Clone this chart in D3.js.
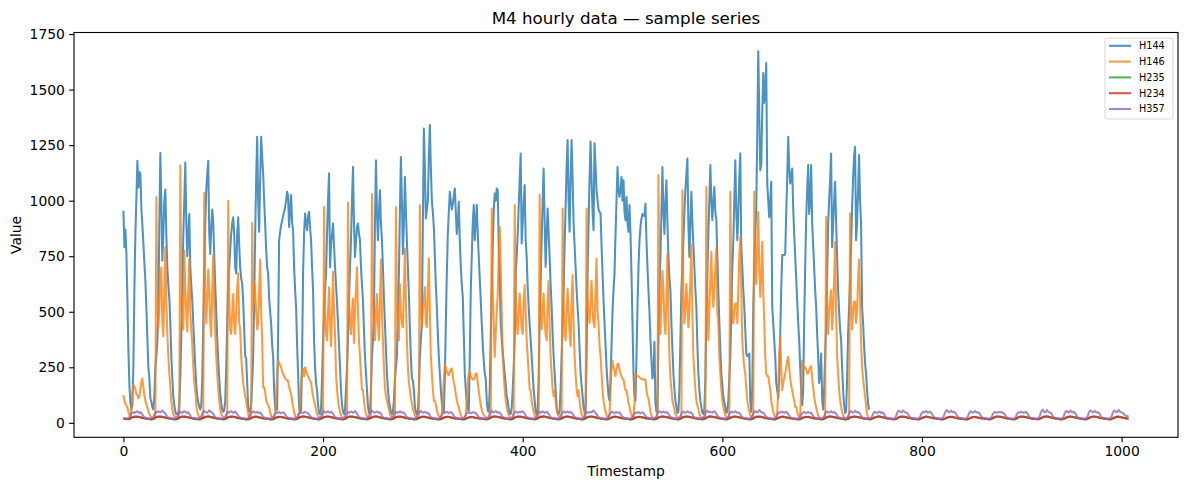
<!DOCTYPE html>
<html>
<head>
<meta charset="utf-8">
<script src="https://cdn.jsdelivr.net/npm/d3@7"></script>
<style>
  body { margin: 0; background: #fff; }
  svg { display: block; }
  text { font-family: "DejaVu Sans", sans-serif; fill: #000; }
</style>
</head>
<body>
<svg id="chart" width="1189" height="490"></svg>
<script>
// ---- data (hourly values, one row per day) ----
var seriesNames = ["H144", "H146", "H235", "H234", "H357"];
var seriesColors = ["#1f77b4", "#ff7f0e", "#2ca02c", "#d62728", "#9467bd"];
var xTicks = [0, 200, 400, 600, 800, 1000];
var yTicks = [0, 250, 500, 750, 1000, 1250, 1500, 1750];

var h144 = [].concat(
  [955,790,870,760,560,330,170,90,60,80,260,600,850,1010,1180,1060,1130,1120,960,890,810,720,640,520],
  [380,250,200,110,95,70,60,120,250,300,370,500,900,1215,1000,730,850,1000,1050,850,700,620,560,450],
  [300,200,120,80,50,40,40,45,80,200,400,600,850,1000,1172,900,750,850,940,700,620,550,447,350],
  [250,170,120,90,72,60,80,200,450,700,900,1050,1120,1180,850,760,880,960,900,750,620,500,380,280],
  [200,130,90,60,50,55,100,250,450,650,700,780,850,900,925,850,700,672,850,925,800,700,650,627],
  [550,420,300,290,180,72,50,50,90,180,297,550,852,1100,1288,1000,860,1100,1288,1200,1122,1000,897,780],
  [700,672,560,500,447,350,297,147,70,55,60,400,822,860,890,910,930,950,972,1000,1040,1020,882,960],
  [1025,900,867,702,600,522,350,222,72,45,60,300,672,850,942,900,867,930,950,880,822,700,597,372],
  [250,180,147,80,45,40,60,200,372,500,600,672,850,1000,1122,700,800,850,897,800,702,620,540,447],
  [350,250,147,80,50,40,60,150,250,372,550,700,822,1000,1152,900,747,820,880,897,850,822,700,620],
  [550,420,300,222,150,72,45,50,150,297,372,490,900,1182,950,822,950,1047,900,822,700,560,447,330],
  [222,150,100,72,50,40,50,100,200,250,297,500,672,950,1197,1000,760,900,1107,950,822,700,580,420],
  [300,200,190,150,72,50,40,50,150,300,372,447,900,1325,1150,920,960,1000,1200,1340,1150,1000,950,880],
  [750,620,522,400,300,222,150,90,60,50,200,450,672,850,950,1040,1000,960,985,1020,1055,950,850,900],
  [995,822,700,620,567,400,222,150,90,60,55,300,597,750,900,980,822,900,980,850,747,650,550,447],
  [350,280,222,200,100,55,50,150,400,597,800,950,1032,1000,1055,1047,800,650,447,380,320,270,222,170],
  [120,100,60,40,40,70,150,250,372,672,750,850,972,1100,1212,807,900,1000,1070,822,750,612,520,440],
  [372,300,222,150,100,50,40,60,200,447,650,822,1000,1145,900,702,850,965,850,747,620,522,400,300],
  [222,150,72,45,40,50,150,300,447,600,800,972,1150,1273,1000,860,1100,1273,1100,897,800,702,600,520],
  [447,330,222,170,120,72,45,50,300,672,900,1100,1266,1100,950,867,1258,1150,1047,1000,960,950,943,800],
  [672,550,447,350,250,180,120,100,200,350,500,600,672,850,1000,1152,1050,1017,1050,1107,1000,1092,950,912],
  [1017,900,860,980,850,672,450,222,125,100,300,522,700,820,882,920,940,935,930,987,822,700,597,500],
  [372,282,200,222,365,87,50,60,372,600,747,950,1152,950,850,1000,1092,900,750,650,597,450,330,222],
  [150,100,72,45,50,150,372,600,700,822,950,1050,1120,1190,900,747,900,1040,900,800,700,600,522,350],
  [222,150,100,72,45,40,60,200,450,672,850,1000,1160,1000,912,1000,1062,950,912,750,600,450,330,222],
  [170,120,90,72,45,50,100,200,297,500,700,822,1000,1182,950,822,950,1100,1212,790,700,600,522,420],
  [312,300,300,312,100,50,150,522,700,850,972,1300,1672,1400,1137,1160,1400,1575,1440,1500,1620,1077,1000,925],
  [1000,1085,522,450,372,300,180,147,110,200,400,600,755,755,755,760,942,1100,1288,1150,1077,1100,1145,965],
  [850,750,650,550,450,372,250,147,80,150,447,700,920,1050,1160,940,1000,1160,900,800,700,600,522,400],
  [300,180,222,312,110,60,150,300,447,650,897,1000,1100,1212,790,900,1000,1085,897,750,597,500,420,372],
  [250,147,80,45,50,200,400,522,650,800,972,1100,1200,1243,822,900,1050,1205,1000,897,522,450,350,268],
  [222,147,90,60]
);

var h146 = [].concat(
  [125,100,85,80,70,50,35,30,60,130,170,165,150,130,124,110,120,150,185,200,160,124,100,85],
  [70,50,40,30,25,20,20,20,30,1016,550,430,520,650,700,450,390,600,790,550,400,300,222,160],
  [100,60,40,30,25,20,20,20,40,1158,600,450,420,775,600,500,410,600,740,500,420,350,250,180],
  [147,80,50,35,25,20,20,20,40,1034,600,447,550,690,600,450,390,600,755,550,400,300,220,150],
  [100,60,40,30,25,20,20,20,40,1000,550,420,400,500,580,450,400,500,610,673,450,420,300,230],
  [180,150,120,100,70,40,25,20,50,900,500,630,600,500,420,450,600,735,500,372,160,160,140,100],
  [90,80,70,50,30,25,20,25,40,120,220,280,270,260,250,230,220,210,200,195,190,190,160,147],
  [130,100,72,50,30,22,20,25,40,100,180,230,245,210,250,230,220,210,200,190,180,150,120,100],
  [80,60,40,30,25,20,20,25,40,972,500,400,372,500,610,450,345,500,680,500,400,222,150,100],
  [72,50,35,25,20,20,20,25,40,992,550,450,400,500,560,360,500,600,700,500,372,300,222,147],
  [147,100,60,40,30,25,20,20,40,1030,600,450,372,500,580,450,372,550,735,500,372,250,160,120],
  [100,80,60,40,30,25,20,20,40,972,550,450,372,625,500,450,430,600,785,550,372,250,180,147],
  [110,90,60,50,35,25,20,20,40,980,550,430,500,550,610,450,430,600,740,500,300,222,150,100],
  [100,80,60,40,30,25,20,40,100,200,260,250,230,220,215,230,240,245,210,180,160,130,100,80],
  [72,50,35,25,20,20,25,40,100,180,220,230,210,200,195,195,210,222,222,180,140,110,80,60],
  [45,35,30,25,20,20,20,25,40,965,600,450,297,400,500,580,760,882,700,500,300,222,150,100],
  [70,50,35,25,20,20,20,40,980,600,450,400,500,582,500,420,400,550,620,500,372,300,222,150],
  [147,100,72,50,35,25,20,20,40,1025,550,420,500,582,450,400,372,550,640,450,297,222,150,120],
  [147,100,60,40,30,20,20,40,965,550,400,372,500,605,500,400,345,550,665,450,297,222,150,120],
  [147,100,60,40,30,20,20,40,965,550,500,450,550,640,500,450,430,600,740,500,447,350,300,222],
  [150,100,72,50,35,25,20,40,150,250,280,250,230,210,240,265,265,240,222,210,200,195,170,147],
  [147,120,90,72,50,35,25,20,100,222,215,210,210,205,200,200,195,195,195,195,150,120,110,80],
  [50,35,25,20,20,20,25,40,1115,550,400,550,685,600,450,400,550,760,500,300,200,150,100,80],
  [60,40,30,25,20,20,25,40,1047,600,450,500,625,550,430,500,650,800,500,300,222,150,100,80],
  [60,40,30,25,20,20,25,40,1062,600,372,500,650,770,600,522,600,700,790,500,447,300,222,150],
  [100,72,50,35,25,20,20,40,1040,600,500,447,500,537,537,447,600,750,837,600,372,300,250,222],
  [150,100,72,50,35,25,20,40,1040,700,625,800,950,700,567,650,815,600,447,300,222,210,210,180],
  [147,100,72,50,35,25,20,40,150,300,387,250,147,180,200,222,250,280,297,250,200,170,147,120],
  [100,72,72,50,35,25,40,150,280,260,250,250,240,222,222,240,250,255,200,160,120,90,70,50],
  [35,25,20,20,20,20,25,40,927,550,400,500,550,597,420,500,650,815,500,300,222,150,100,72],
  [50,35,25,20,20,20,25,40,942,550,420,500,545,545,450,500,650,735,550,372,250,200,160,120],
  [80,40,25,20]
);

var h235 = [].concat(
  [19,18,17,16,16,16,17,19,22,24,26,27,27,28,27,26,25,24,23,22,21,20,20,19],
  [18,17,16,15,15,16,18,20,23,25,26,27,28,28,27,26,25,24,23,22,21,20,19,19],
  [18,17,16,15,15,16,17,20,23,25,27,28,28,27,27,26,25,24,23,22,21,20,19,18],
  [18,17,16,15,15,16,18,20,22,24,26,27,28,29,28,26,25,24,23,22,21,20,19,19],
  [18,17,16,16,15,16,17,19,22,25,26,27,27,28,27,26,25,24,22,21,21,20,19,18],
  [18,17,16,15,15,15,17,19,21,23,25,26,27,27,26,25,24,23,22,21,20,20,19,18],
  [18,17,16,15,15,15,16,18,21,23,24,25,26,26,26,25,24,23,22,21,20,19,19,18],
  [18,17,16,15,15,16,17,20,23,25,27,28,28,28,27,26,25,24,23,22,21,20,19,19],
  [18,17,16,15,15,16,18,20,23,25,26,27,28,28,27,26,25,24,23,22,21,20,19,19],
  [18,17,16,15,15,16,17,20,23,26,27,28,28,27,27,26,25,24,23,22,21,20,19,18],
  [18,17,16,16,15,16,18,20,22,24,26,27,28,29,28,26,25,24,23,22,21,20,19,19],
  [18,17,16,15,15,16,17,19,22,25,26,27,27,28,27,26,25,24,22,21,21,20,19,18],
  [18,17,16,15,15,15,17,19,21,23,25,26,27,27,26,25,24,23,22,21,20,20,19,18],
  [18,17,16,15,15,15,16,18,21,23,24,25,26,26,26,25,24,23,22,21,20,19,19,18],
  [18,17,16,15,15,15,16,18,20,22,24,25,25,26,25,24,23,22,21,21,20,19,19,18],
  [18,17,16,15,15,16,18,20,23,25,27,28,28,28,27,26,25,24,23,22,21,20,19,19],
  [18,17,16,15,15,16,17,20,23,25,26,28,28,27,27,26,25,24,23,22,21,20,19,18],
  [18,17,16,16,15,16,18,20,22,25,27,27,28,29,28,26,25,24,23,22,21,20,19,19],
  [18,17,16,15,15,16,17,19,22,24,26,27,28,28,27,26,25,24,23,22,21,20,19,18],
  [18,17,16,15,15,16,18,20,23,25,26,27,28,28,27,26,25,24,22,21,21,20,19,18],
  [18,17,16,15,15,15,17,19,21,23,25,26,27,27,26,25,24,23,22,21,20,20,19,18],
  [18,17,16,15,15,15,16,18,21,23,24,25,26,26,25,25,24,23,22,21,20,19,19,18],
  [18,17,16,15,15,16,17,20,23,25,27,28,28,28,27,26,25,24,23,22,21,20,19,19],
  [18,17,16,15,15,16,18,20,23,25,26,27,28,28,27,26,25,24,23,22,21,20,19,18],
  [18,17,16,16,15,16,17,20,22,25,27,28,29,28,27,26,25,24,23,22,21,20,19,19],
  [18,17,16,15,15,16,18,20,22,24,26,27,28,28,27,26,25,24,23,22,21,20,19,18],
  [18,17,16,15,15,16,17,19,22,25,26,27,27,28,27,26,25,24,22,21,21,20,19,18],
  [18,17,16,15,15,15,17,19,21,23,25,26,27,27,26,25,24,23,22,21,20,20,19,18],
  [18,17,16,15,15,15,16,18,21,23,24,25,26,26,26,25,24,23,22,21,20,19,19,18],
  [18,17,16,15,15,16,18,20,23,25,27,28,28,28,27,26,25,24,23,22,21,20,19,19],
  [18,17,16,15,15,16,17,20,23,25,26,27,28,28,27,26,25,24,23,22,21,20,19,18],
  [18,17,16,16,15,16,18,20,22,24,26,27,28,29,28,26,25,24,23,22,21,20,19,19],
  [18,17,16,15,15,16,17,19,22,25,26,27,27,28,27,26,25,24,22,21,21,20,19,18],
  [18,17,16,15,15,15,17,19,21,23,25,26,27,27,26,25,24,23,22,21,20,20,19,18],
  [18,17,16,15,15,15,16,18,21,23,24,25,26,26,26,25,24,23,22,21,20,19,19,18],
  [18,17,16,15,15,15,16,18,20,22,24,25,25,26,25,24,23,22,21,21,20,19,19,18],
  [18,17,16,15,15,16,18,20,23,25,27,28,28,28,27,26,25,24,23,22,21,20,19,19],
  [18,17,16,15,15,16,17,20,23,25,26,28,28,27,27,26,25,24,23,22,21,20,19,18],
  [18,17,16,16,15,16,18,20,22,25,27,27,28,29,28,26,25,24,23,22,21,20,19,19],
  [18,17,16,15,15,16,17,19,22,24,26,27,28,28,27,26,25,24,23,22,21,20,19,18],
  [18,17,16,15,15,16,18,20,23,25,26,27,28,28,27,26,25,24,22,21,21,20,19,18],
  [18,17,16,15,15,15,17,19,21,23,25,26,27,27,26,25,24,23,22,21,20,20,19,19]
);

var h234 = [].concat(
  [20,19,18,17,17,17,18,20,23,25,27,28,28,29,28,27,26,25,24,23,22,21,21,20],
  [19,18,17,16,16,17,19,21,24,26,27,28,29,29,28,27,26,25,24,23,22,21,20,20],
  [19,18,17,16,16,17,18,21,24,26,28,29,29,28,28,27,26,25,24,23,22,21,20,19],
  [19,18,17,16,16,17,19,21,23,25,27,28,29,30,29,27,26,25,24,23,22,21,20,20],
  [19,18,17,17,16,17,18,20,23,26,27,28,28,29,28,27,26,25,23,22,22,21,20,19],
  [19,18,17,16,16,16,18,20,22,24,26,27,28,28,27,26,25,24,23,22,21,21,20,19],
  [19,18,17,16,16,16,17,19,22,24,25,26,27,27,27,26,25,24,23,22,21,20,20,19],
  [19,18,17,16,16,17,18,21,24,26,28,29,29,29,28,27,26,25,24,23,22,21,20,20],
  [19,18,17,16,16,17,19,21,24,26,27,28,29,29,28,27,26,25,24,23,22,21,20,20],
  [19,18,17,16,16,17,18,21,24,27,28,29,29,28,28,27,26,25,24,23,22,21,20,19],
  [19,18,17,17,16,17,19,21,23,25,27,28,29,30,29,27,26,25,24,23,22,21,20,20],
  [19,18,17,16,16,17,18,20,23,26,27,28,28,29,28,27,26,25,23,22,22,21,20,19],
  [19,18,17,16,16,16,18,20,22,24,26,27,28,28,27,26,25,24,23,22,21,21,20,19],
  [19,18,17,16,16,16,17,19,22,24,25,26,27,27,27,26,25,24,23,22,21,20,20,19],
  [19,18,17,16,16,16,17,19,21,23,25,26,26,27,26,25,24,23,22,22,21,20,20,19],
  [19,18,17,16,16,17,19,21,24,26,28,29,29,29,28,27,26,25,24,23,22,21,20,20],
  [19,18,17,16,16,17,18,21,24,26,27,29,29,28,28,27,26,25,24,23,22,21,20,19],
  [19,18,17,17,16,17,19,21,23,26,28,28,29,30,29,27,26,25,24,23,22,21,20,20],
  [19,18,17,16,16,17,18,20,23,25,27,28,29,29,28,27,26,25,24,23,22,21,20,19],
  [19,18,17,16,16,17,19,21,24,26,27,28,29,29,28,27,26,25,23,22,22,21,20,19],
  [19,18,17,16,16,16,18,20,22,24,26,27,28,28,27,26,25,24,23,22,21,21,20,19],
  [19,18,17,16,16,16,17,19,22,24,25,26,27,27,26,26,25,24,23,22,21,20,20,19],
  [19,18,17,16,16,17,18,21,24,26,28,29,29,29,28,27,26,25,24,23,22,21,20,20],
  [19,18,17,16,16,17,19,21,24,26,27,28,29,29,28,27,26,25,24,23,22,21,20,19],
  [19,18,17,17,16,17,18,21,23,26,28,29,30,29,28,27,26,25,24,23,22,21,20,20],
  [19,18,17,16,16,17,19,21,23,25,27,28,29,29,28,27,26,25,24,23,22,21,20,19],
  [19,18,17,16,16,17,18,20,23,26,27,28,28,29,28,27,26,25,23,22,22,21,20,19],
  [19,18,17,16,16,16,18,20,22,24,26,27,28,28,27,26,25,24,23,22,21,21,20,19],
  [19,18,17,16,16,16,17,19,22,24,25,26,27,27,27,26,25,24,23,22,21,20,20,19],
  [19,18,17,16,16,17,19,21,24,26,28,29,29,29,28,27,26,25,24,23,22,21,20,20],
  [19,18,17,16,16,17,18,21,24,26,27,28,29,29,28,27,26,25,24,23,22,21,20,19],
  [19,18,17,17,16,17,19,21,23,25,27,28,29,30,29,27,26,25,24,23,22,21,20,20],
  [19,18,17,16,16,17,18,20,23,26,27,28,28,29,28,27,26,25,23,22,22,21,20,19],
  [19,18,17,16,16,16,18,20,22,24,26,27,28,28,27,26,25,24,23,22,21,21,20,19],
  [19,18,17,16,16,16,17,19,22,24,25,26,27,27,27,26,25,24,23,22,21,20,20,19],
  [19,18,17,16,16,16,17,19,21,23,25,26,26,27,26,25,24,23,22,22,21,20,20,19],
  [19,18,17,16,16,17,19,21,24,26,28,29,29,29,28,27,26,25,24,23,22,21,20,20],
  [19,18,17,16,16,17,18,21,24,26,27,29,29,28,28,27,26,25,24,23,22,21,20,19],
  [19,18,17,17,16,17,19,21,23,26,28,28,29,30,29,27,26,25,24,23,22,21,20,20],
  [19,18,17,16,16,17,18,20,23,25,27,28,29,29,28,27,26,25,24,23,22,21,20,19],
  [19,18,17,16,16,17,19,21,24,26,27,28,29,29,28,27,26,25,23,22,22,21,20,19],
  [19,18,17,16,16,16,18,20,22,24,26,27,28,28,27,26,25,24,23,22,21,21,20,20]
);

var h357 = [].concat(
  [22,21,20,20,21,22,25,33,44,47,45,49,46,50,52,47,45,49,44,38,30,25,23,22],
  [21,20,20,19,20,22,26,38,46,50,48,52,49,47,51,55,50,46,42,34,27,24,22,21],
  [21,20,19,19,20,23,28,40,48,51,47,45,49,53,50,47,44,48,41,33,26,23,22,21],
  [20,20,19,19,21,24,30,42,50,54,49,47,46,50,56,52,48,45,40,32,26,23,21,21],
  [21,20,19,20,21,23,27,39,47,49,46,50,53,48,45,49,51,46,40,33,27,24,22,21],
  [21,20,19,19,20,22,26,37,45,48,52,49,46,47,50,46,44,47,42,34,27,24,22,21],
  [20,20,19,19,20,22,25,34,42,46,44,47,49,45,43,46,48,44,39,32,26,23,21,21],
  [20,19,19,19,20,22,25,35,43,45,48,46,44,47,50,47,45,43,38,31,26,23,21,20],
  [20,20,19,19,21,23,28,41,50,53,48,46,49,52,48,46,50,47,41,33,27,24,22,21],
  [21,20,19,19,20,23,29,42,49,47,45,48,51,49,46,48,53,48,42,34,27,24,22,21],
  [21,20,20,19,21,24,30,43,51,55,50,47,46,49,51,48,45,47,41,33,26,23,22,21],
  [21,20,19,19,20,22,27,39,46,50,47,45,48,52,49,46,48,45,40,32,26,23,21,21],
  [20,20,19,19,20,23,28,40,47,49,53,49,46,48,50,47,44,46,41,33,27,24,22,21],
  [21,20,19,19,20,22,26,36,44,47,45,48,50,46,44,47,49,45,39,32,26,23,21,20],
  [20,19,19,19,20,22,25,35,43,46,49,45,43,46,48,45,47,44,38,31,26,23,21,20],
  [20,20,19,19,21,23,29,42,50,54,49,47,50,53,49,46,48,45,40,33,27,24,22,21],
  [21,20,19,19,20,23,28,41,48,51,47,45,48,50,47,49,52,47,41,33,27,24,22,21],
  [21,20,20,19,21,24,30,43,50,48,46,49,52,48,45,47,50,46,40,32,26,23,22,21],
  [21,20,19,19,20,22,27,40,48,52,48,46,49,51,48,46,49,47,41,33,27,24,22,21],
  [21,20,19,19,20,23,28,41,49,47,45,48,50,47,52,56,49,45,40,32,26,23,21,21],
  [20,20,19,19,20,22,26,37,45,48,50,46,44,47,49,46,45,47,41,33,27,24,22,21],
  [21,20,19,19,20,22,25,35,43,46,44,47,49,45,43,46,48,44,38,31,26,23,21,20],
  [20,20,19,19,21,23,29,42,50,53,48,46,49,51,48,46,49,46,40,33,27,24,22,21],
  [21,20,19,19,20,23,28,41,48,51,47,45,48,52,49,46,48,45,40,32,26,23,22,21],
  [21,20,20,19,21,24,30,44,52,55,49,47,50,48,46,49,53,48,41,33,27,24,22,21],
  [21,20,19,19,20,22,27,40,47,50,48,46,49,52,48,45,47,45,39,32,26,23,21,21],
  [20,20,19,19,20,23,29,42,50,53,49,47,51,57,52,48,46,47,41,33,27,24,22,21],
  [21,20,19,19,20,22,26,37,45,48,46,49,51,47,45,48,50,46,40,32,26,23,21,20],
  [20,19,19,19,20,22,25,36,44,47,50,46,44,47,49,46,44,45,39,31,26,23,21,20],
  [20,20,19,19,21,23,28,41,49,52,48,46,49,52,48,46,49,47,41,33,27,24,22,21],
  [21,20,19,19,20,23,29,42,50,53,49,46,48,55,50,47,49,46,40,32,26,23,22,21],
  [21,20,20,19,21,23,28,40,47,50,46,44,47,51,48,45,48,46,40,32,26,23,21,21],
  [21,20,19,19,20,23,29,43,52,55,50,47,49,56,52,48,47,45,40,32,26,23,22,21],
  [21,20,19,19,20,22,26,38,46,49,47,50,53,49,46,48,51,47,41,33,27,24,22,21],
  [20,20,19,19,21,24,31,45,54,57,51,48,50,55,51,48,50,47,41,33,27,24,22,21],
  [21,20,19,19,20,23,28,41,49,52,48,46,49,53,49,46,48,46,40,32,26,23,21,21],
  [21,20,19,19,20,22,27,39,46,49,47,45,47,50,47,49,48,46,43,38,30,25,22,21],
  [21,20,19,19,20,22,26,38,45,48,46,48,50,47,45,47,50,46,40,32,26,23,22,21],
  [21,20,19,19,21,24,31,45,55,59,50,47,49,57,52,48,47,45,40,32,26,23,22,21],
  [21,20,19,19,20,23,29,43,51,54,49,47,50,55,50,47,49,46,40,32,26,23,21,21],
  [21,20,19,19,21,23,30,44,53,56,50,47,49,54,50,47,48,46,40,32,26,23,22,21],
  [21,20,19,19,20,23,29,43,52,55,51,48,50,58,53,49,47,45,41,36,32,31,30,29]
);

var seriesValues = [h144, h146, h235, h234, h357];

// ---- layout (matching the matplotlib figure) ----
var plot = { left: 74, right: 1178, top: 32.5, bottom: 437.3 };

var svg = d3.select("#chart");

var x = d3.scaleLinear().domain([-49.5, 1056.5]).range([plot.left, plot.right]);
var y = d3.scaleLinear().domain([-65, 1757]).range([plot.bottom, plot.top]);

svg.append("defs").append("clipPath").attr("id", "plotclip")
    .append("rect")
    .attr("x", plot.left).attr("y", plot.top)
    .attr("width", plot.right - plot.left).attr("height", plot.bottom - plot.top);

// lines
var line = d3.line()
    .x(function (d, i) { return x(i); })
    .y(function (d) { return y(d); });

var lineLayer = svg.append("g").attr("clip-path", "url(#plotclip)");
seriesValues.forEach(function (vals, k) {
    lineLayer.append("path")
        .datum(vals)
        .attr("d", line)
        .attr("fill", "none")
        .attr("stroke", seriesColors[k])
        .attr("stroke-opacity", 0.8)
        .attr("stroke-width", 2.05)
        .attr("stroke-linejoin", "round");
});

// axes
var fmt = d3.format("d");
var xAxis = d3.axisBottom(x).tickValues(xTicks).tickFormat(fmt)
    .tickSize(4.9).tickPadding(3.6).tickSizeOuter(0);
var yAxis = d3.axisLeft(y).tickValues(yTicks).tickFormat(fmt)
    .tickSize(4.9).tickPadding(4.2).tickSizeOuter(0);

var gx = svg.append("g").attr("transform", "translate(0," + plot.bottom + ")").call(xAxis);
var gy = svg.append("g").attr("transform", "translate(" + plot.left + ",0)").call(yAxis);

[gx, gy].forEach(function (g) {
    g.select(".domain").remove();
    g.selectAll(".tick line").attr("stroke", "#000").attr("stroke-width", 1.1);
    g.selectAll(".tick text")
        .attr("fill", "#000")
        .style("font-family", '"DejaVu Sans", sans-serif')
        .style("font-size", "13.9px");
});

// frame
svg.append("rect")
    .attr("x", plot.left).attr("y", plot.top)
    .attr("width", plot.right - plot.left).attr("height", plot.bottom - plot.top)
    .attr("fill", "none").attr("stroke", "#000").attr("stroke-width", 1.1);

// title and labels
var midX = (plot.left + plot.right) / 2;
svg.append("text")
    .attr("x", midX).attr("y", 24)
    .attr("text-anchor", "middle")
    .style("font-size", "16.7px")
    .text("M4 hourly data \u2014 sample series");

svg.append("text")
    .attr("x", midX).attr("y", 476)
    .attr("text-anchor", "middle")
    .style("font-size", "13.9px")
    .text("Timestamp");

svg.append("text")
    .attr("transform", "translate(21," + ((plot.top + plot.bottom) / 2) + ") rotate(-90)")
    .attr("text-anchor", "middle")
    .style("font-size", "13.9px")
    .text("Value");

// legend
var leg = svg.append("g");
leg.append("rect")
    .attr("x", 1105).attr("y", 38)
    .attr("width", 68).attr("height", 81)
    .attr("rx", 2.5)
    .attr("fill", "#fff").attr("fill-opacity", 0.8)
    .attr("stroke", "#cccccc").attr("stroke-opacity", 0.8)
    .attr("stroke-width", 1);

seriesNames.forEach(function (name, k) {
    var cy = 45.8 + k * 15.8;
    leg.append("line")
        .attr("x1", 1109).attr("x2", 1131)
        .attr("y1", cy).attr("y2", cy)
        .attr("stroke", seriesColors[k])
        .attr("stroke-opacity", 0.8)
        .attr("stroke-width", 2.05);
    leg.append("text")
        .attr("x", 1139).attr("y", cy)
        .attr("dy", "0.35em")
        .style("font-size", "9.7px")
        .text(name);
});
</script>
</body>
</html>
